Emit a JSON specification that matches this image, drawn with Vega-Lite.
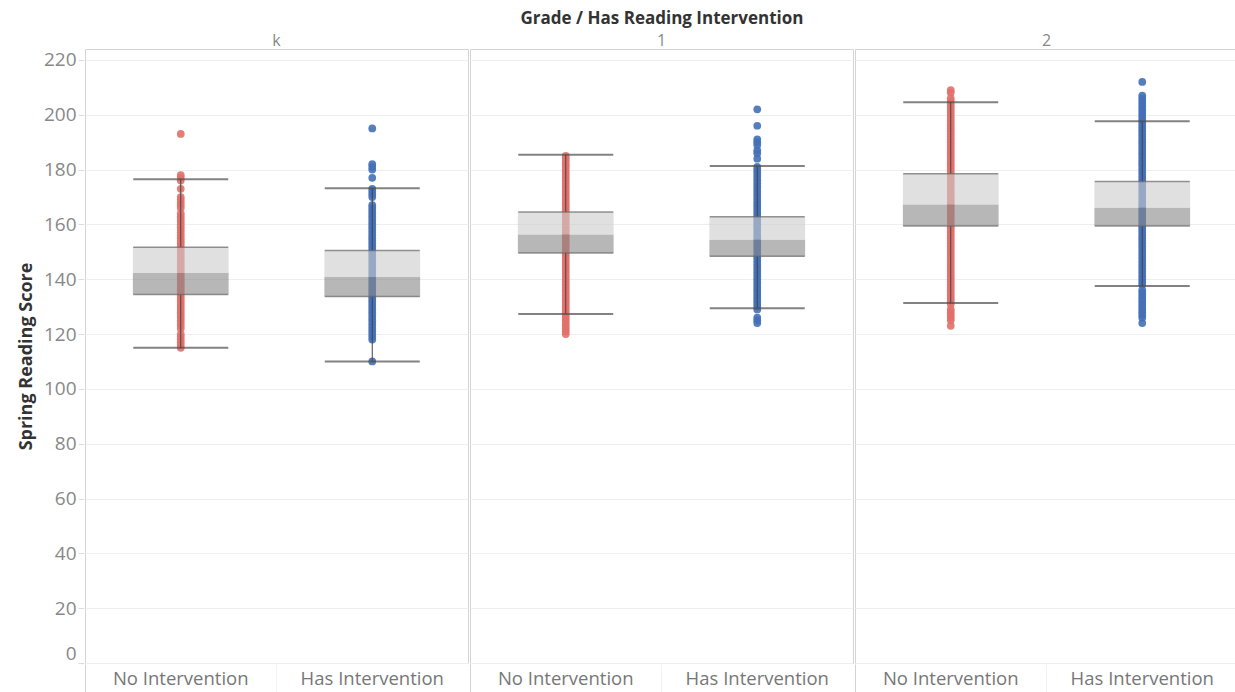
{
"$schema": "https://vega.github.io/schema/vega-lite/v6.json",
"padding": {"left": 17, "top": 10, "right": 0, "bottom": 0},
"background": "white",
"data": {"values": [
{"grade":"k","group":"No Intervention","lo":115,"q1":134.4,"med":142.3,"q3":151.7,"hi":176.5},
{"grade":"k","group":"Has Intervention","lo":110,"q1":133.7,"med":140.8,"q3":150.5,"hi":173.2},
{"grade":"1","group":"No Intervention","lo":127.3,"q1":149.6,"med":156.3,"q3":164.5,"hi":185.4},
{"grade":"1","group":"Has Intervention","lo":129.4,"q1":148.4,"med":154.4,"q3":162.8,"hi":181.3},
{"grade":"2","group":"No Intervention","lo":131.3,"q1":159.4,"med":167.3,"q3":178.5,"hi":204.6},
{"grade":"2","group":"Has Intervention","lo":137.5,"q1":159.4,"med":166.1,"q3":175.7,"hi":197.6},
{"grade":"k","group":"No Intervention","score":193},
{"grade":"k","group":"No Intervention","score":178},
{"grade":"k","group":"No Intervention","score":177},
{"grade":"k","group":"No Intervention","score":176},
{"grade":"k","group":"No Intervention","score":173},
{"grade":"k","group":"No Intervention","score":170},
{"grade":"k","group":"No Intervention","score":169},
{"grade":"k","group":"No Intervention","score":168},
{"grade":"k","group":"No Intervention","score":167},
{"grade":"k","group":"No Intervention","score":166},
{"grade":"k","group":"No Intervention","score":164},
{"grade":"k","group":"No Intervention","score":163},
{"grade":"k","group":"No Intervention","score":162},
{"grade":"k","group":"No Intervention","score":161},
{"grade":"k","group":"No Intervention","score":160},
{"grade":"k","group":"No Intervention","score":159},
{"grade":"k","group":"No Intervention","score":158},
{"grade":"k","group":"No Intervention","score":157},
{"grade":"k","group":"No Intervention","score":156},
{"grade":"k","group":"No Intervention","score":155},
{"grade":"k","group":"No Intervention","score":154},
{"grade":"k","group":"No Intervention","score":153},
{"grade":"k","group":"No Intervention","score":152},
{"grade":"k","group":"No Intervention","score":151},
{"grade":"k","group":"No Intervention","score":150},
{"grade":"k","group":"No Intervention","score":149},
{"grade":"k","group":"No Intervention","score":148},
{"grade":"k","group":"No Intervention","score":147},
{"grade":"k","group":"No Intervention","score":146},
{"grade":"k","group":"No Intervention","score":145},
{"grade":"k","group":"No Intervention","score":144},
{"grade":"k","group":"No Intervention","score":143},
{"grade":"k","group":"No Intervention","score":142},
{"grade":"k","group":"No Intervention","score":141},
{"grade":"k","group":"No Intervention","score":140},
{"grade":"k","group":"No Intervention","score":139},
{"grade":"k","group":"No Intervention","score":138},
{"grade":"k","group":"No Intervention","score":137},
{"grade":"k","group":"No Intervention","score":136},
{"grade":"k","group":"No Intervention","score":135},
{"grade":"k","group":"No Intervention","score":134},
{"grade":"k","group":"No Intervention","score":133},
{"grade":"k","group":"No Intervention","score":132},
{"grade":"k","group":"No Intervention","score":131},
{"grade":"k","group":"No Intervention","score":130},
{"grade":"k","group":"No Intervention","score":129},
{"grade":"k","group":"No Intervention","score":128},
{"grade":"k","group":"No Intervention","score":127},
{"grade":"k","group":"No Intervention","score":126},
{"grade":"k","group":"No Intervention","score":125},
{"grade":"k","group":"No Intervention","score":124},
{"grade":"k","group":"No Intervention","score":123},
{"grade":"k","group":"No Intervention","score":122},
{"grade":"k","group":"No Intervention","score":120},
{"grade":"k","group":"No Intervention","score":119},
{"grade":"k","group":"No Intervention","score":118},
{"grade":"k","group":"No Intervention","score":117},
{"grade":"k","group":"No Intervention","score":116},
{"grade":"k","group":"No Intervention","score":115},
{"grade":"k","group":"Has Intervention","score":195},
{"grade":"k","group":"Has Intervention","score":182},
{"grade":"k","group":"Has Intervention","score":181},
{"grade":"k","group":"Has Intervention","score":180},
{"grade":"k","group":"Has Intervention","score":177},
{"grade":"k","group":"Has Intervention","score":173},
{"grade":"k","group":"Has Intervention","score":172},
{"grade":"k","group":"Has Intervention","score":171},
{"grade":"k","group":"Has Intervention","score":170},
{"grade":"k","group":"Has Intervention","score":167},
{"grade":"k","group":"Has Intervention","score":166},
{"grade":"k","group":"Has Intervention","score":165},
{"grade":"k","group":"Has Intervention","score":164},
{"grade":"k","group":"Has Intervention","score":163},
{"grade":"k","group":"Has Intervention","score":162},
{"grade":"k","group":"Has Intervention","score":161},
{"grade":"k","group":"Has Intervention","score":160},
{"grade":"k","group":"Has Intervention","score":159},
{"grade":"k","group":"Has Intervention","score":158},
{"grade":"k","group":"Has Intervention","score":157},
{"grade":"k","group":"Has Intervention","score":156},
{"grade":"k","group":"Has Intervention","score":155},
{"grade":"k","group":"Has Intervention","score":154},
{"grade":"k","group":"Has Intervention","score":153},
{"grade":"k","group":"Has Intervention","score":152},
{"grade":"k","group":"Has Intervention","score":151},
{"grade":"k","group":"Has Intervention","score":150},
{"grade":"k","group":"Has Intervention","score":149},
{"grade":"k","group":"Has Intervention","score":148},
{"grade":"k","group":"Has Intervention","score":147},
{"grade":"k","group":"Has Intervention","score":146},
{"grade":"k","group":"Has Intervention","score":145},
{"grade":"k","group":"Has Intervention","score":144},
{"grade":"k","group":"Has Intervention","score":143},
{"grade":"k","group":"Has Intervention","score":142},
{"grade":"k","group":"Has Intervention","score":141},
{"grade":"k","group":"Has Intervention","score":140},
{"grade":"k","group":"Has Intervention","score":139},
{"grade":"k","group":"Has Intervention","score":138},
{"grade":"k","group":"Has Intervention","score":137},
{"grade":"k","group":"Has Intervention","score":136},
{"grade":"k","group":"Has Intervention","score":135},
{"grade":"k","group":"Has Intervention","score":134},
{"grade":"k","group":"Has Intervention","score":133},
{"grade":"k","group":"Has Intervention","score":132},
{"grade":"k","group":"Has Intervention","score":131},
{"grade":"k","group":"Has Intervention","score":130},
{"grade":"k","group":"Has Intervention","score":129},
{"grade":"k","group":"Has Intervention","score":128},
{"grade":"k","group":"Has Intervention","score":127},
{"grade":"k","group":"Has Intervention","score":126},
{"grade":"k","group":"Has Intervention","score":125},
{"grade":"k","group":"Has Intervention","score":124},
{"grade":"k","group":"Has Intervention","score":123},
{"grade":"k","group":"Has Intervention","score":122},
{"grade":"k","group":"Has Intervention","score":121},
{"grade":"k","group":"Has Intervention","score":120},
{"grade":"k","group":"Has Intervention","score":119},
{"grade":"k","group":"Has Intervention","score":118},
{"grade":"k","group":"Has Intervention","score":110},
{"grade":"1","group":"No Intervention","score":185},
{"grade":"1","group":"No Intervention","score":184},
{"grade":"1","group":"No Intervention","score":183},
{"grade":"1","group":"No Intervention","score":182},
{"grade":"1","group":"No Intervention","score":181},
{"grade":"1","group":"No Intervention","score":180},
{"grade":"1","group":"No Intervention","score":179},
{"grade":"1","group":"No Intervention","score":178},
{"grade":"1","group":"No Intervention","score":177},
{"grade":"1","group":"No Intervention","score":176},
{"grade":"1","group":"No Intervention","score":175},
{"grade":"1","group":"No Intervention","score":174},
{"grade":"1","group":"No Intervention","score":173},
{"grade":"1","group":"No Intervention","score":172},
{"grade":"1","group":"No Intervention","score":171},
{"grade":"1","group":"No Intervention","score":170},
{"grade":"1","group":"No Intervention","score":169},
{"grade":"1","group":"No Intervention","score":168},
{"grade":"1","group":"No Intervention","score":167},
{"grade":"1","group":"No Intervention","score":166},
{"grade":"1","group":"No Intervention","score":165},
{"grade":"1","group":"No Intervention","score":164},
{"grade":"1","group":"No Intervention","score":163},
{"grade":"1","group":"No Intervention","score":162},
{"grade":"1","group":"No Intervention","score":161},
{"grade":"1","group":"No Intervention","score":160},
{"grade":"1","group":"No Intervention","score":159},
{"grade":"1","group":"No Intervention","score":158},
{"grade":"1","group":"No Intervention","score":157},
{"grade":"1","group":"No Intervention","score":156},
{"grade":"1","group":"No Intervention","score":155},
{"grade":"1","group":"No Intervention","score":154},
{"grade":"1","group":"No Intervention","score":153},
{"grade":"1","group":"No Intervention","score":152},
{"grade":"1","group":"No Intervention","score":151},
{"grade":"1","group":"No Intervention","score":150},
{"grade":"1","group":"No Intervention","score":149},
{"grade":"1","group":"No Intervention","score":148},
{"grade":"1","group":"No Intervention","score":147},
{"grade":"1","group":"No Intervention","score":146},
{"grade":"1","group":"No Intervention","score":145},
{"grade":"1","group":"No Intervention","score":144},
{"grade":"1","group":"No Intervention","score":143},
{"grade":"1","group":"No Intervention","score":142},
{"grade":"1","group":"No Intervention","score":141},
{"grade":"1","group":"No Intervention","score":140},
{"grade":"1","group":"No Intervention","score":139},
{"grade":"1","group":"No Intervention","score":138},
{"grade":"1","group":"No Intervention","score":137},
{"grade":"1","group":"No Intervention","score":136},
{"grade":"1","group":"No Intervention","score":135},
{"grade":"1","group":"No Intervention","score":134},
{"grade":"1","group":"No Intervention","score":133},
{"grade":"1","group":"No Intervention","score":132},
{"grade":"1","group":"No Intervention","score":131},
{"grade":"1","group":"No Intervention","score":130},
{"grade":"1","group":"No Intervention","score":129},
{"grade":"1","group":"No Intervention","score":128},
{"grade":"1","group":"No Intervention","score":127},
{"grade":"1","group":"No Intervention","score":126},
{"grade":"1","group":"No Intervention","score":125},
{"grade":"1","group":"No Intervention","score":124},
{"grade":"1","group":"No Intervention","score":123},
{"grade":"1","group":"No Intervention","score":122},
{"grade":"1","group":"No Intervention","score":121},
{"grade":"1","group":"No Intervention","score":120},
{"grade":"1","group":"Has Intervention","score":202},
{"grade":"1","group":"Has Intervention","score":196},
{"grade":"1","group":"Has Intervention","score":191},
{"grade":"1","group":"Has Intervention","score":190},
{"grade":"1","group":"Has Intervention","score":189},
{"grade":"1","group":"Has Intervention","score":187},
{"grade":"1","group":"Has Intervention","score":186},
{"grade":"1","group":"Has Intervention","score":184},
{"grade":"1","group":"Has Intervention","score":181},
{"grade":"1","group":"Has Intervention","score":180},
{"grade":"1","group":"Has Intervention","score":179},
{"grade":"1","group":"Has Intervention","score":178},
{"grade":"1","group":"Has Intervention","score":177},
{"grade":"1","group":"Has Intervention","score":176},
{"grade":"1","group":"Has Intervention","score":175},
{"grade":"1","group":"Has Intervention","score":174},
{"grade":"1","group":"Has Intervention","score":173},
{"grade":"1","group":"Has Intervention","score":172},
{"grade":"1","group":"Has Intervention","score":171},
{"grade":"1","group":"Has Intervention","score":170},
{"grade":"1","group":"Has Intervention","score":169},
{"grade":"1","group":"Has Intervention","score":168},
{"grade":"1","group":"Has Intervention","score":167},
{"grade":"1","group":"Has Intervention","score":166},
{"grade":"1","group":"Has Intervention","score":165},
{"grade":"1","group":"Has Intervention","score":164},
{"grade":"1","group":"Has Intervention","score":163},
{"grade":"1","group":"Has Intervention","score":162},
{"grade":"1","group":"Has Intervention","score":161},
{"grade":"1","group":"Has Intervention","score":160},
{"grade":"1","group":"Has Intervention","score":159},
{"grade":"1","group":"Has Intervention","score":158},
{"grade":"1","group":"Has Intervention","score":157},
{"grade":"1","group":"Has Intervention","score":156},
{"grade":"1","group":"Has Intervention","score":155},
{"grade":"1","group":"Has Intervention","score":154},
{"grade":"1","group":"Has Intervention","score":153},
{"grade":"1","group":"Has Intervention","score":152},
{"grade":"1","group":"Has Intervention","score":151},
{"grade":"1","group":"Has Intervention","score":150},
{"grade":"1","group":"Has Intervention","score":149},
{"grade":"1","group":"Has Intervention","score":148},
{"grade":"1","group":"Has Intervention","score":147},
{"grade":"1","group":"Has Intervention","score":146},
{"grade":"1","group":"Has Intervention","score":145},
{"grade":"1","group":"Has Intervention","score":144},
{"grade":"1","group":"Has Intervention","score":143},
{"grade":"1","group":"Has Intervention","score":142},
{"grade":"1","group":"Has Intervention","score":141},
{"grade":"1","group":"Has Intervention","score":140},
{"grade":"1","group":"Has Intervention","score":139},
{"grade":"1","group":"Has Intervention","score":138},
{"grade":"1","group":"Has Intervention","score":137},
{"grade":"1","group":"Has Intervention","score":136},
{"grade":"1","group":"Has Intervention","score":135},
{"grade":"1","group":"Has Intervention","score":134},
{"grade":"1","group":"Has Intervention","score":133},
{"grade":"1","group":"Has Intervention","score":132},
{"grade":"1","group":"Has Intervention","score":131},
{"grade":"1","group":"Has Intervention","score":130},
{"grade":"1","group":"Has Intervention","score":129},
{"grade":"1","group":"Has Intervention","score":126},
{"grade":"1","group":"Has Intervention","score":125},
{"grade":"1","group":"Has Intervention","score":124},
{"grade":"2","group":"No Intervention","score":209},
{"grade":"2","group":"No Intervention","score":208},
{"grade":"2","group":"No Intervention","score":206},
{"grade":"2","group":"No Intervention","score":205},
{"grade":"2","group":"No Intervention","score":204},
{"grade":"2","group":"No Intervention","score":203},
{"grade":"2","group":"No Intervention","score":202},
{"grade":"2","group":"No Intervention","score":201},
{"grade":"2","group":"No Intervention","score":200},
{"grade":"2","group":"No Intervention","score":199},
{"grade":"2","group":"No Intervention","score":198},
{"grade":"2","group":"No Intervention","score":197},
{"grade":"2","group":"No Intervention","score":196},
{"grade":"2","group":"No Intervention","score":195},
{"grade":"2","group":"No Intervention","score":194},
{"grade":"2","group":"No Intervention","score":193},
{"grade":"2","group":"No Intervention","score":192},
{"grade":"2","group":"No Intervention","score":191},
{"grade":"2","group":"No Intervention","score":190},
{"grade":"2","group":"No Intervention","score":189},
{"grade":"2","group":"No Intervention","score":188},
{"grade":"2","group":"No Intervention","score":187},
{"grade":"2","group":"No Intervention","score":186},
{"grade":"2","group":"No Intervention","score":185},
{"grade":"2","group":"No Intervention","score":184},
{"grade":"2","group":"No Intervention","score":183},
{"grade":"2","group":"No Intervention","score":182},
{"grade":"2","group":"No Intervention","score":181},
{"grade":"2","group":"No Intervention","score":180},
{"grade":"2","group":"No Intervention","score":179},
{"grade":"2","group":"No Intervention","score":178},
{"grade":"2","group":"No Intervention","score":177},
{"grade":"2","group":"No Intervention","score":176},
{"grade":"2","group":"No Intervention","score":175},
{"grade":"2","group":"No Intervention","score":174},
{"grade":"2","group":"No Intervention","score":173},
{"grade":"2","group":"No Intervention","score":172},
{"grade":"2","group":"No Intervention","score":171},
{"grade":"2","group":"No Intervention","score":170},
{"grade":"2","group":"No Intervention","score":169},
{"grade":"2","group":"No Intervention","score":168},
{"grade":"2","group":"No Intervention","score":167},
{"grade":"2","group":"No Intervention","score":166},
{"grade":"2","group":"No Intervention","score":165},
{"grade":"2","group":"No Intervention","score":164},
{"grade":"2","group":"No Intervention","score":163},
{"grade":"2","group":"No Intervention","score":162},
{"grade":"2","group":"No Intervention","score":161},
{"grade":"2","group":"No Intervention","score":160},
{"grade":"2","group":"No Intervention","score":159},
{"grade":"2","group":"No Intervention","score":158},
{"grade":"2","group":"No Intervention","score":157},
{"grade":"2","group":"No Intervention","score":156},
{"grade":"2","group":"No Intervention","score":155},
{"grade":"2","group":"No Intervention","score":154},
{"grade":"2","group":"No Intervention","score":153},
{"grade":"2","group":"No Intervention","score":152},
{"grade":"2","group":"No Intervention","score":151},
{"grade":"2","group":"No Intervention","score":150},
{"grade":"2","group":"No Intervention","score":149},
{"grade":"2","group":"No Intervention","score":148},
{"grade":"2","group":"No Intervention","score":147},
{"grade":"2","group":"No Intervention","score":146},
{"grade":"2","group":"No Intervention","score":145},
{"grade":"2","group":"No Intervention","score":144},
{"grade":"2","group":"No Intervention","score":143},
{"grade":"2","group":"No Intervention","score":142},
{"grade":"2","group":"No Intervention","score":141},
{"grade":"2","group":"No Intervention","score":140},
{"grade":"2","group":"No Intervention","score":139},
{"grade":"2","group":"No Intervention","score":138},
{"grade":"2","group":"No Intervention","score":137},
{"grade":"2","group":"No Intervention","score":136},
{"grade":"2","group":"No Intervention","score":135},
{"grade":"2","group":"No Intervention","score":134},
{"grade":"2","group":"No Intervention","score":133},
{"grade":"2","group":"No Intervention","score":132},
{"grade":"2","group":"No Intervention","score":131},
{"grade":"2","group":"No Intervention","score":129},
{"grade":"2","group":"No Intervention","score":128},
{"grade":"2","group":"No Intervention","score":127},
{"grade":"2","group":"No Intervention","score":126},
{"grade":"2","group":"No Intervention","score":125},
{"grade":"2","group":"No Intervention","score":123},
{"grade":"2","group":"Has Intervention","score":212},
{"grade":"2","group":"Has Intervention","score":207},
{"grade":"2","group":"Has Intervention","score":206},
{"grade":"2","group":"Has Intervention","score":205},
{"grade":"2","group":"Has Intervention","score":204},
{"grade":"2","group":"Has Intervention","score":203},
{"grade":"2","group":"Has Intervention","score":202},
{"grade":"2","group":"Has Intervention","score":201},
{"grade":"2","group":"Has Intervention","score":200},
{"grade":"2","group":"Has Intervention","score":199},
{"grade":"2","group":"Has Intervention","score":198},
{"grade":"2","group":"Has Intervention","score":197},
{"grade":"2","group":"Has Intervention","score":196},
{"grade":"2","group":"Has Intervention","score":195},
{"grade":"2","group":"Has Intervention","score":194},
{"grade":"2","group":"Has Intervention","score":193},
{"grade":"2","group":"Has Intervention","score":192},
{"grade":"2","group":"Has Intervention","score":191},
{"grade":"2","group":"Has Intervention","score":190},
{"grade":"2","group":"Has Intervention","score":189},
{"grade":"2","group":"Has Intervention","score":188},
{"grade":"2","group":"Has Intervention","score":187},
{"grade":"2","group":"Has Intervention","score":186},
{"grade":"2","group":"Has Intervention","score":185},
{"grade":"2","group":"Has Intervention","score":184},
{"grade":"2","group":"Has Intervention","score":183},
{"grade":"2","group":"Has Intervention","score":182},
{"grade":"2","group":"Has Intervention","score":181},
{"grade":"2","group":"Has Intervention","score":180},
{"grade":"2","group":"Has Intervention","score":179},
{"grade":"2","group":"Has Intervention","score":178},
{"grade":"2","group":"Has Intervention","score":177},
{"grade":"2","group":"Has Intervention","score":176},
{"grade":"2","group":"Has Intervention","score":175},
{"grade":"2","group":"Has Intervention","score":174},
{"grade":"2","group":"Has Intervention","score":173},
{"grade":"2","group":"Has Intervention","score":172},
{"grade":"2","group":"Has Intervention","score":171},
{"grade":"2","group":"Has Intervention","score":170},
{"grade":"2","group":"Has Intervention","score":169},
{"grade":"2","group":"Has Intervention","score":168},
{"grade":"2","group":"Has Intervention","score":167},
{"grade":"2","group":"Has Intervention","score":166},
{"grade":"2","group":"Has Intervention","score":165},
{"grade":"2","group":"Has Intervention","score":164},
{"grade":"2","group":"Has Intervention","score":163},
{"grade":"2","group":"Has Intervention","score":162},
{"grade":"2","group":"Has Intervention","score":161},
{"grade":"2","group":"Has Intervention","score":160},
{"grade":"2","group":"Has Intervention","score":159},
{"grade":"2","group":"Has Intervention","score":158},
{"grade":"2","group":"Has Intervention","score":157},
{"grade":"2","group":"Has Intervention","score":156},
{"grade":"2","group":"Has Intervention","score":155},
{"grade":"2","group":"Has Intervention","score":154},
{"grade":"2","group":"Has Intervention","score":153},
{"grade":"2","group":"Has Intervention","score":152},
{"grade":"2","group":"Has Intervention","score":151},
{"grade":"2","group":"Has Intervention","score":150},
{"grade":"2","group":"Has Intervention","score":149},
{"grade":"2","group":"Has Intervention","score":148},
{"grade":"2","group":"Has Intervention","score":147},
{"grade":"2","group":"Has Intervention","score":146},
{"grade":"2","group":"Has Intervention","score":145},
{"grade":"2","group":"Has Intervention","score":144},
{"grade":"2","group":"Has Intervention","score":143},
{"grade":"2","group":"Has Intervention","score":142},
{"grade":"2","group":"Has Intervention","score":141},
{"grade":"2","group":"Has Intervention","score":140},
{"grade":"2","group":"Has Intervention","score":139},
{"grade":"2","group":"Has Intervention","score":138},
{"grade":"2","group":"Has Intervention","score":136},
{"grade":"2","group":"Has Intervention","score":135},
{"grade":"2","group":"Has Intervention","score":134},
{"grade":"2","group":"Has Intervention","score":133},
{"grade":"2","group":"Has Intervention","score":132},
{"grade":"2","group":"Has Intervention","score":131},
{"grade":"2","group":"Has Intervention","score":130},
{"grade":"2","group":"Has Intervention","score":129},
{"grade":"2","group":"Has Intervention","score":128},
{"grade":"2","group":"Has Intervention","score":127},
{"grade":"2","group":"Has Intervention","score":126},
{"grade":"2","group":"Has Intervention","score":124}
]},
"facet": {"column": {"field": "grade", "type": "nominal", "sort": ["k", "1", "2"],
  "header": {"title": "Grade / Has Reading Intervention", "titleFont": "Open Sans", "titleFontSize": 17, "titleFontWeight": "bold", "titleColor": "#333333", "titlePadding": -5,
    "labelFont": "Open Sans", "labelFontSize": 16, "labelColor": "#888888", "labelPadding": -1}}},
"spacing": 0,
"spec": {
  "width": 383,
  "height": 614,
  "encoding": {
    "x": {"field": "group", "type": "nominal", "sort": ["No Intervention", "Has Intervention"], "title": null,
      "scale": {"paddingInner": 0, "paddingOuter": 0},
      "axis": {"labelFont": "Open Sans", "labelFontSize": 18.5, "labelColor": "#777777", "labelAngle": 0, "domain": false,
        "ticks": true, "bandPosition": 0, "tickSize": 29, "tickWidth": 1,
        "tickColor": {"condition": {"test": "datum.value === 'No Intervention'", "value": "#d4d4d4"}, "value": "#f2f2f2"},
        "labelPadding": -24}}
  },
  "layer": [
    {"transform": [{"filter": "isValid(datum.score)"}],
     "mark": {"type": "circle", "size": 60, "opacity": 0.9},
     "encoding": {
       "y": {"field": "score", "type": "quantitative", "title": "Spring Reading Score",
         "scale": {"domain": [0, 224], "nice": false, "zero": false},
         "axis": {"values": [0, 20, 40, 60, 80, 100, 120, 140, 160, 180, 200, 220], "labelFont": "Open Sans", "labelFontSize": 19, "labelColor": "#888888", "labelFlush": true,
           "tickColor": "#dddddd", "tickSize": 6, "domain": false, "labelPadding": 2, "grid": true, "gridColor": "#eeeeee",
           "titleFont": "Open Sans", "titleFontSize": 18, "titleFontWeight": "bold", "titleColor": "#333333", "titlePadding": 8}},
       "color": {"field": "group", "type": "nominal", "scale": {"domain": ["No Intervention", "Has Intervention"], "range": ["#e1706a", "#4470b8"]}, "legend": null}
     }},
    {"transform": [{"filter": "isValid(datum.q1)"}],
     "mark": {"type": "bar", "width": {"band": 0.5}, "color": "#8a8a8a", "opacity": 0.61},
     "encoding": {"y": {"field": "q1", "type": "quantitative", "title": "Spring Reading Score"}, "y2": {"field": "med"}}},
    {"transform": [{"filter": "isValid(datum.q1)"}],
     "mark": {"type": "bar", "width": {"band": 0.5}, "color": "#cccccc", "opacity": 0.61},
     "encoding": {"y": {"field": "med", "type": "quantitative", "title": "Spring Reading Score"}, "y2": {"field": "q3"}}},
    {"transform": [{"filter": "isValid(datum.q1)"}],
     "mark": {"type": "rule", "color": "#444444", "strokeWidth": 1},
     "encoding": {"y": {"field": "q3", "type": "quantitative", "title": "Spring Reading Score"}, "y2": {"field": "hi"}}},
    {"transform": [{"filter": "isValid(datum.q1)"}],
     "mark": {"type": "rule", "color": "#444444", "strokeWidth": 1},
     "encoding": {"y": {"field": "lo", "type": "quantitative", "title": "Spring Reading Score"}, "y2": {"field": "q1"}}},
    {"transform": [{"filter": "isValid(datum.q1)"}],
     "mark": {"type": "tick", "color": "#4d4d4d", "thickness": 2, "size": 95},
     "encoding": {"y": {"field": "hi", "type": "quantitative", "title": "Spring Reading Score"}}},
    {"transform": [{"filter": "isValid(datum.q1)"}],
     "mark": {"type": "tick", "color": "#4d4d4d", "thickness": 2, "size": 95},
     "encoding": {"y": {"field": "lo", "type": "quantitative", "title": "Spring Reading Score"}}},
    {"transform": [{"filter": "isValid(datum.q1)"}],
     "mark": {"type": "tick", "color": "#666666", "thickness": 1.5, "size": 95},
     "encoding": {"y": {"field": "q3", "type": "quantitative", "title": "Spring Reading Score"}}},
    {"transform": [{"filter": "isValid(datum.q1)"}],
     "mark": {"type": "tick", "color": "#666666", "thickness": 1.5, "size": 95},
     "encoding": {"y": {"field": "q1", "type": "quantitative", "title": "Spring Reading Score"}}}
  ]
},
"config": {"view": {"stroke": "#d4d4d4", "strokeWidth": 1}}
}
